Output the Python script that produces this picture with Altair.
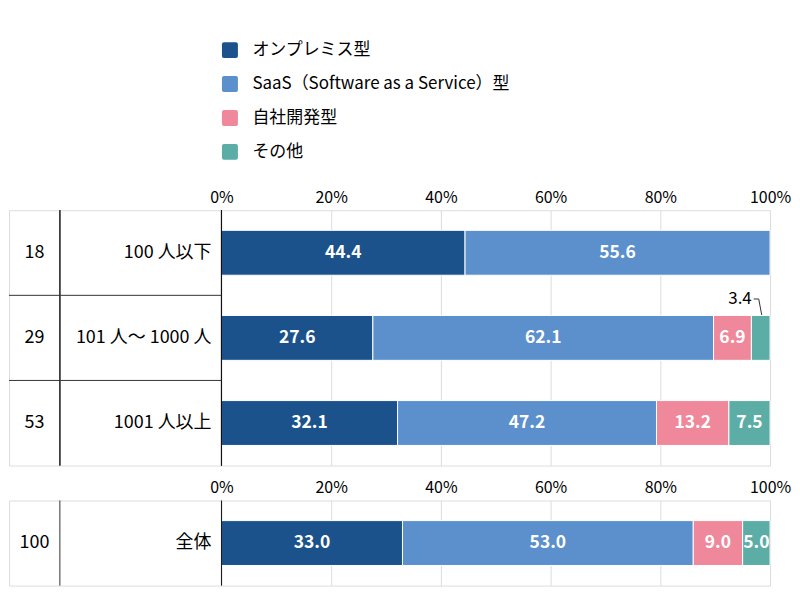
import altair as alt
import pandas as pd

# ---- data ----
categories = ["100 人以下", "101 人～ 1000 人", "1001 人以上"]
counts = [18, 29, 53]
series = ["オンプレミス型", "SaaS（Software as a Service）型", "自社開発型", "その他"]
colors = ["#1c528c", "#5b90cd", "#f0889b", "#5bada6"]
onprem = [44.4, 27.6, 32.1]
saas = [55.6, 62.1, 47.2]
inhouse = [0.0, 6.9, 13.2]
other = [0.0, 3.4, 7.5]

total_categories = ["全体"]
total_counts = [100]
total_values = [33.0, 53.0, 9.0, 5.0]

tick_values = [0, 20, 40, 60, 80, 100]

FONT = "Noto Sans CJK JP"

# ---- layout constants (pixels) ----
PLOT_W = 550          # width of the 0..100% area
TABLE_W = 213         # width of the table to the left
COL1_W = 51           # width of the first table column
XMIN = -TABLE_W / PLOT_W * 100
COL_DIV = XMIN + COL1_W / PLOT_W * 100
COL1_CENTER = (XMIN + COL_DIV) / 2
ROW_H = 85.33


def long_table(cats, ns, value_lists):
    rows = []
    for i, cat in enumerate(cats):
        for j, s in enumerate(series):
            v = value_lists[j][i]
            if v > 0:
                rows.append({"cat": cat, "n": ns[i], "series": s, "order": j, "value": v})
    return pd.DataFrame(rows)


top_df = long_table(categories, counts, [onprem, saas, inhouse, other])
bottom_df = long_table(total_categories, total_counts,
                       [[total_values[0]], [total_values[1]], [total_values[2]], [total_values[3]]])

rounded_square = ("M -0.75 -1 L 0.75 -1 Q 1 -1 1 -0.75 L 1 0.75 Q 1 1 0.75 1 "
                  "L -0.75 1 Q -1 1 -1 0.75 L -1 -0.75 Q -1 -1 -0.75 -1 Z")


def panel(df, cats, ns, show_legend):
    height = ROW_H * len(cats)
    xscale = alt.Scale(domain=[XMIN, 100], nice=False, zero=False)
    yenc = alt.Y("cat:N", sort=cats, scale=alt.Scale(paddingInner=0, paddingOuter=0), axis=None)

    if show_legend:
        legend = alt.Legend(orient="none", legendX=213, legendY=-169, direction="vertical",
                            title=None, symbolType=rounded_square, symbolSize=256,
                            symbolStrokeWidth=0, symbolOpacity=1, labelFontSize=17,
                            labelFont=FONT, labelColor="#000", labelLimit=0,
                            rowPadding=16, labelOffset=14)
    else:
        legend = None

    base = alt.Chart(df).transform_stack(
        stack="value", as_=["x0", "x1"], groupby=["cat"], sort=[alt.SortField("order")]
    ).transform_calculate(mid="(datum.x0 + datum.x1) / 2")

    bars = base.mark_bar(size=45, stroke="white", strokeWidth=1).encode(
        x=alt.X("x0:Q", scale=xscale,
                axis=alt.Axis(orient="top", values=tick_values, labelExpr="datum.value + '%'",
                              grid=True, gridColor="#dcdcdc", ticks=False, domain=False,
                              labelPadding=5, labelFontSize=16, labelFont=FONT,
                              labelColor="#000", labelFlush=False, title=None)),
        x2="x1:Q",
        y=yenc,
        color=alt.Color("series:N", scale=alt.Scale(domain=series, range=colors), legend=legend),
        order=alt.Order("order:Q"),
    )

    labels = base.transform_filter("datum.value >= 4").mark_text(
        color="white", fontWeight="bold", fontSize=17.5, font=FONT
    ).encode(x="mid:Q", y=yenc, text=alt.Text("value:Q", format=".1f"))

    small = base.transform_filter("datum.value < 4")
    small_labels = small.mark_text(
        color="#000", fontSize=17, font=FONT, align="right", dx=-9, dy=-39
    ).encode(x="mid:Q", y=yenc, text=alt.Text("value:Q", format=".1f"))
    leader_h = small.mark_rule(color="#333", strokeWidth=1, xOffset=-7, x2Offset=-2,
                               yOffset=-39, y2Offset=-39).encode(
        x="mid:Q", x2="mid:Q", y=yenc, y2="cat:N")
    leader_d = small.mark_rule(color="#333", strokeWidth=1, xOffset=-2, x2Offset=1,
                               yOffset=-39, y2Offset=-23).encode(
        x="mid:Q", x2="mid:Q", y=yenc, y2="cat:N")

    table = pd.DataFrame({"cat": cats, "n": ns})
    tbase = alt.Chart(table)
    n_text = tbase.mark_text(fontSize=18, font=FONT, color="#000").encode(
        x=alt.datum(COL1_CENTER), y=yenc, text="n:Q")
    cat_text = tbase.mark_text(fontSize=18, font=FONT, color="#000", align="right", dx=-10).encode(
        x=alt.datum(0), y=yenc, text="cat:N")
    vlines = tbase.mark_rule(color="#333", strokeWidth=1).encode(x=alt.datum(COL_DIV))
    zline = tbase.mark_rule(color="#111", strokeWidth=1).encode(x=alt.datum(0))
    layers = [bars, labels, small_labels, leader_h, leader_d, n_text, cat_text, vlines, zline]
    if len(cats) > 1:
        hlines = alt.Chart(table.iloc[1:]).mark_rule(color="#333", strokeWidth=1).encode(
            y=alt.Y("cat:N", sort=cats, bandPosition=0), x=alt.datum(XMIN), x2=alt.datum(0))
        layers.append(hlines)

    return alt.layer(*layers).properties(width=TABLE_W + PLOT_W, height=height)


top = panel(top_df, categories, counts, True)
bottom = panel(bottom_df, total_categories, total_counts, False)

chart = alt.vconcat(top, bottom, spacing=12).resolve_scale(
    color="independent", x="independent", y="independent"
).properties(
    padding={"left": 0, "top": 32, "right": 0, "bottom": 0}
).configure_view(stroke="#777", strokeWidth=1).configure(font=FONT)

chart.save("out.html", embed_options={"renderer": "svg", "actions": False})
